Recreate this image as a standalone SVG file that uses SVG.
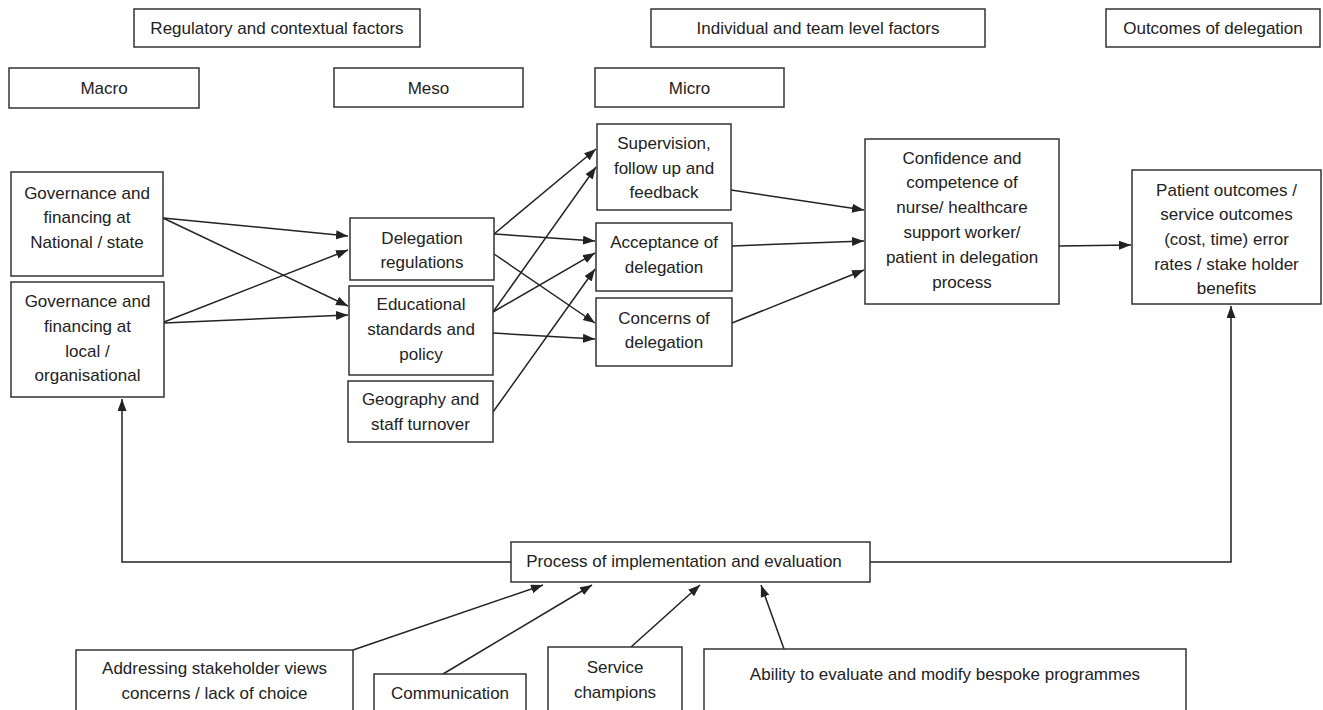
<svg xmlns="http://www.w3.org/2000/svg" width="1323" height="710" viewBox="0 0 1323 710">
<style>
rect{fill:#fff;stroke:#333;stroke-width:1.5}
text{font-family:"Liberation Sans",Arial,sans-serif;font-size:17px;fill:#222;text-anchor:middle}
.c line,.c polyline{stroke:#222;stroke-width:1.5;fill:none;marker-end:url(#ah)}
</style>
<defs>
<marker id="ah" markerUnits="userSpaceOnUse" markerWidth="13" markerHeight="10" refX="12" refY="4.5" orient="auto"><path d="M0,0 L12,4.5 L0,9 z" fill="#222"/></marker>
</defs>
<rect x="0" y="0" width="1323" height="710" style="stroke:none"/>
<g id="hdr-regulatory"><rect x="134" y="9" width="286" height="38"/><text x="277" y="34">Regulatory and contextual factors</text></g>
<g id="hdr-individual"><rect x="651" y="9" width="334" height="38"/><text x="818" y="34">Individual and team level factors</text></g>
<g id="hdr-outcomes"><rect x="1106" y="9" width="214" height="38"/><text x="1213" y="34">Outcomes of delegation</text></g>
<g id="hdr-macro"><rect x="9" y="68" width="190" height="40"/><text x="104" y="94">Macro</text></g>
<g id="hdr-meso"><rect x="334" y="68" width="189" height="39"/><text x="428.5" y="94">Meso</text></g>
<g id="hdr-micro"><rect x="595" y="68" width="189" height="39"/><text x="689.5" y="94">Micro</text></g>

<g class="c" id="connectors">
<line x1="163" y1="218" x2="348" y2="236"/>
<line x1="163" y1="218" x2="348" y2="306"/>
<line x1="164" y1="322" x2="348" y2="250"/>
<line x1="164" y1="323" x2="348" y2="315"/>
<line x1="494" y1="234" x2="596" y2="149"/>
<line x1="494" y1="234" x2="595" y2="241"/>
<line x1="494" y1="254" x2="595" y2="323"/>
<line x1="493" y1="312" x2="596" y2="167"/>
<line x1="493" y1="312" x2="595" y2="253"/>
<line x1="493" y1="333" x2="595" y2="339"/>
<line x1="493" y1="412" x2="595" y2="269"/>
<line x1="731" y1="190" x2="864" y2="210"/>
<line x1="732" y1="246" x2="864" y2="241"/>
<line x1="732" y1="323" x2="864" y2="270"/>
<line x1="1059" y1="246" x2="1131" y2="245"/>
<polyline points="511,562 122,562 122,399"/>
<polyline points="870,562 1231,562 1231,306"/>
<line x1="353" y1="650" x2="543" y2="585"/>
<line x1="443" y1="674" x2="592" y2="585"/>
<line x1="631" y1="647" x2="700" y2="585"/>
<line x1="784" y1="649" x2="761" y2="585"/>
</g>

<g id="gov-national"><rect x="11" y="172" width="152" height="104"/><text x="87" y="199">Governance and</text><text x="87" y="223">financing at</text><text x="87" y="248">National / state</text></g>
<g id="gov-local"><rect x="11" y="282" width="153" height="115"/><text x="87.5" y="307">Governance and</text><text x="87.5" y="332">financing at</text><text x="87.5" y="357">local /</text><text x="87.5" y="381">organisational</text></g>
<g id="delegation-regs"><rect x="350" y="218" width="144" height="62"/><text x="422" y="244">Delegation</text><text x="422" y="268">regulations</text></g>
<g id="educational"><rect x="349" y="286" width="144" height="89"/><text x="421" y="310">Educational</text><text x="421" y="335">standards and</text><text x="421" y="360">policy</text></g>
<g id="geography"><rect x="348" y="381" width="145" height="61"/><text x="420.5" y="405">Geography and</text><text x="420.5" y="430">staff turnover</text></g>
<g id="supervision"><rect x="597" y="124" width="134" height="86"/><text x="664" y="149">Supervision,</text><text x="664" y="174">follow up and</text><text x="664" y="198">feedback</text></g>
<g id="acceptance"><rect x="596" y="223" width="136" height="68"/><text x="664" y="248">Acceptance of</text><text x="664" y="273">delegation</text></g>
<g id="concerns"><rect x="596" y="298" width="136" height="68"/><text x="664" y="324">Concerns of</text><text x="664" y="348">delegation</text></g>
<g id="confidence"><rect x="865" y="139" width="194" height="165"/><text x="962" y="164">Confidence and</text><text x="962" y="188">competence of</text><text x="962" y="213">nurse/ healthcare</text><text x="962" y="238">support worker/</text><text x="962" y="263">patient in delegation</text><text x="962" y="288">process</text></g>
<g id="patient-outcomes"><rect x="1132" y="170" width="189" height="134"/><text x="1226.5" y="196">Patient outcomes /</text><text x="1226.5" y="220">service outcomes</text><text x="1226.5" y="245">(cost, time) error</text><text x="1226.5" y="270">rates / stake holder</text><text x="1226.5" y="294">benefits</text></g>
<g id="process"><rect x="511" y="542" width="359" height="40"/><text x="684" y="567">Process of implementation and evaluation</text></g>
<g id="addressing"><rect x="76" y="650" width="277" height="70"/><text x="214.5" y="674">Addressing stakeholder views</text><text x="214.5" y="699">concerns / lack of choice</text></g>
<g id="communication"><rect x="374" y="674" width="152" height="46"/><text x="450" y="699">Communication</text></g>
<g id="service-champions"><rect x="548" y="647" width="134" height="73"/><text x="615" y="673">Service</text><text x="615" y="698">champions</text></g>
<g id="ability"><rect x="704" y="649" width="482" height="71"/><text x="945" y="680">Ability to evaluate and modify bespoke programmes</text></g>
</svg>
